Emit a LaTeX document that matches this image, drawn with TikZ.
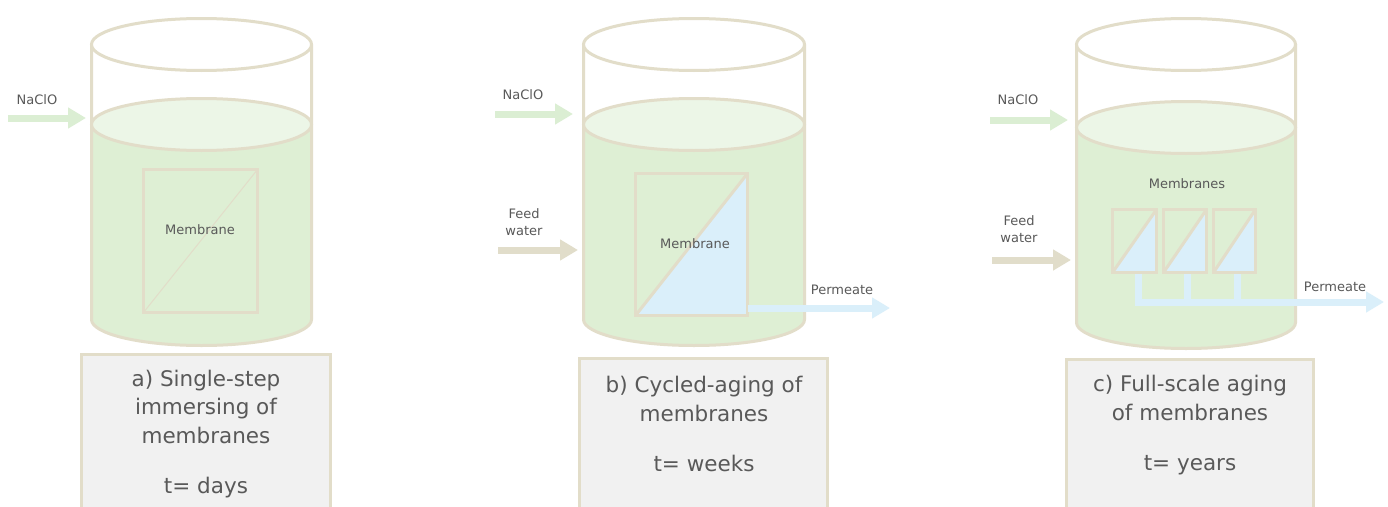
\documentclass[tikz,border=0pt]{standalone}
\usepackage{fontspec}
\setmainfont{DejaVu Sans}
\usetikzlibrary{arrows.meta}

\definecolor{rim}{RGB}{226,221,201}
\definecolor{liquid}{RGB}{222,239,212}
\definecolor{surface}{RGB}{236,246,231}
\definecolor{dosing}{RGB}{219,238,211}
\definecolor{feed}{RGB}{225,221,202}
\definecolor{permeate}{RGB}{218,239,250}
\definecolor{panel}{RGB}{241,241,241}
\definecolor{ink}{RGB}{89,89,89}

% cylinder tank: #1 centre x, #2 x radius, #3 liquid level y, #4 bottom y
\newcommand\drawtank[4]{%
  \fill[liquid] (#1-#2,#3) -- (#1-#2,#4)
     arc[start angle=180,end angle=0,x radius=#2,y radius=26] -- (#1+#2,#3) -- cycle;
  \draw[rimline] (#1-#2,44.5) -- (#1-#2,#4)
     arc[start angle=180,end angle=0,x radius=#2,y radius=26] -- (#1+#2,44.5);
  \draw[rimline,fill=surface] (#1,#3) ellipse[x radius=#2,y radius=26];
  \draw[rimline,fill=white] (#1,44.5) ellipse[x radius=#2,y radius=26];
}

\tikzset{
  rimline/.style={draw=rim,line width=3pt},
  module/.style={draw=rim,line width=3pt,rectangle,inner sep=0pt,outer sep=0pt},
  flow/.style={line width=7pt,-{Triangle[length=18pt,width=20pt]}},
  pipe/.style={line width=7pt,draw=permeate},
  small/.style={text=ink,font=\fontsize{13}{17}\selectfont,align=center,inner sep=0pt},
  caption/.style={text=ink,font=\fontsize{21.5}{28.5}\selectfont,align=center,inner sep=0pt},
  panelbox/.style={draw=rim,fill=panel,line width=3pt,inner sep=0pt,outer sep=0pt,
    anchor=north,minimum height=170pt},
}

\begin{document}
\begin{tikzpicture}[x=1pt,y=-1pt]
\useasboundingbox[fill=white] (0,0) rectangle (1388,506);

% ---------- a) single-step immersion ----------
\drawtank{201.5}{110}{124.5}{319.5}
\node[module,minimum width=114pt,minimum height=143pt] (memA) at (200.5,241) {};
\draw[draw=rim,line width=1pt] (memA.south west) -- (memA.north east);
\node[small] (memAtxt) at (200,230) {Membrane};
\coordinate (naclAstart) at (8,118);
\coordinate (naclAend) at (86,118);
\draw[flow,draw=dosing,color=dosing] (naclAstart) -- (naclAend);
\node[small] (naclAtxt) at (37,100) {NaClO};
\node[panelbox,minimum width=249pt] (boxA) at (206,354.5) {};
\node[caption] (capA) at (206,434) {a) Single-step\\immersing of\\membranes\\[21.5pt]t= days};

% ---------- b) cycled aging ----------
\drawtank{694}{110.5}{124.5}{319.5}
\node[module,minimum width=112pt,minimum height=142pt] (memB) at (691.5,244.5) {};
\fill[permeate] (memB.south west) -- (memB.north east) -- (memB.south east) -- cycle;
\node[module,minimum width=112pt,minimum height=142pt] at (memB) {};
\draw[draw=rim,line width=3pt] (memB.south west) -- (memB.north east);
\node[small] (memBtxt) at (695,244) {Membrane};
\coordinate (naclBstart) at (495,114);
\coordinate (naclBend) at (573,114);
\draw[flow,draw=dosing,color=dosing] (naclBstart) -- (naclBend);
\node[small] (naclBtxt) at (523,95) {NaClO};
\coordinate (feedBstart) at (498,250);
\coordinate (feedBend) at (578,250);
\draw[flow,draw=feed,color=feed] (feedBstart) -- (feedBend);
\node[small] (feedBtxt) at (524,222) {Feed\\water};
\coordinate (permBend) at (890,308);
\draw[flow,draw=permeate,color=permeate] (memB.east |- permBend) -- (permBend);
\node[small] (permBtxt) at (842,290) {Permeate};
\node[panelbox,minimum width=248pt] (boxB) at (703.5,358.5) {};
\node[caption] (capB) at (704,424) {b) Cycled-aging of\\membranes\\[21.5pt]t= weeks};

% ---------- c) full-scale aging ----------
\drawtank{1186}{109.5}{127.5}{322.5}
\coordinate (hdrStart) at (1134.5,302);
\coordinate (permCend) at (1384,302);
\draw[pipe] (1138,270) -- (1138,302);
\draw[pipe] (1187,270) -- (1187,302);
\draw[pipe] (1237,270) -- (1237,302);
\draw[flow,draw=permeate,color=permeate] (hdrStart) -- (permCend);
\foreach \n/\cx/\w in {1/1134.5/44, 2/1185/43, 3/1234.5/42}{
  \node[module,minimum width=\w pt,minimum height=63pt] (memC\n) at (\cx,241) {};
  \fill[permeate] (memC\n.south west) -- (memC\n.north east) -- (memC\n.south east) -- cycle;
  \node[module,minimum width=\w pt,minimum height=63pt] at (memC\n) {};
  \draw[draw=rim,line width=3pt] (memC\n.south west) -- (memC\n.north east);
}
\node[small] (memCtxt) at (1187,184) {Membranes};
\coordinate (naclCstart) at (990,120);
\coordinate (naclCend) at (1068,120);
\draw[flow,draw=dosing,color=dosing] (naclCstart) -- (naclCend);
\node[small] (naclCtxt) at (1018,100) {NaClO};
\coordinate (feedCstart) at (992,260);
\coordinate (feedCend) at (1071,260);
\draw[flow,draw=feed,color=feed] (feedCstart) -- (feedCend);
\node[small] (feedCtxt) at (1019,229) {Feed\\water};
\node[small] (permCtxt) at (1335,287) {Permeate};
\node[panelbox,minimum width=247pt] (boxC) at (1190,359.5) {};
\node[caption] (capC) at (1190,425) {c) Full-scale aging\\of membranes\\[21.5pt]t= years};
\end{tikzpicture}
\end{document}
